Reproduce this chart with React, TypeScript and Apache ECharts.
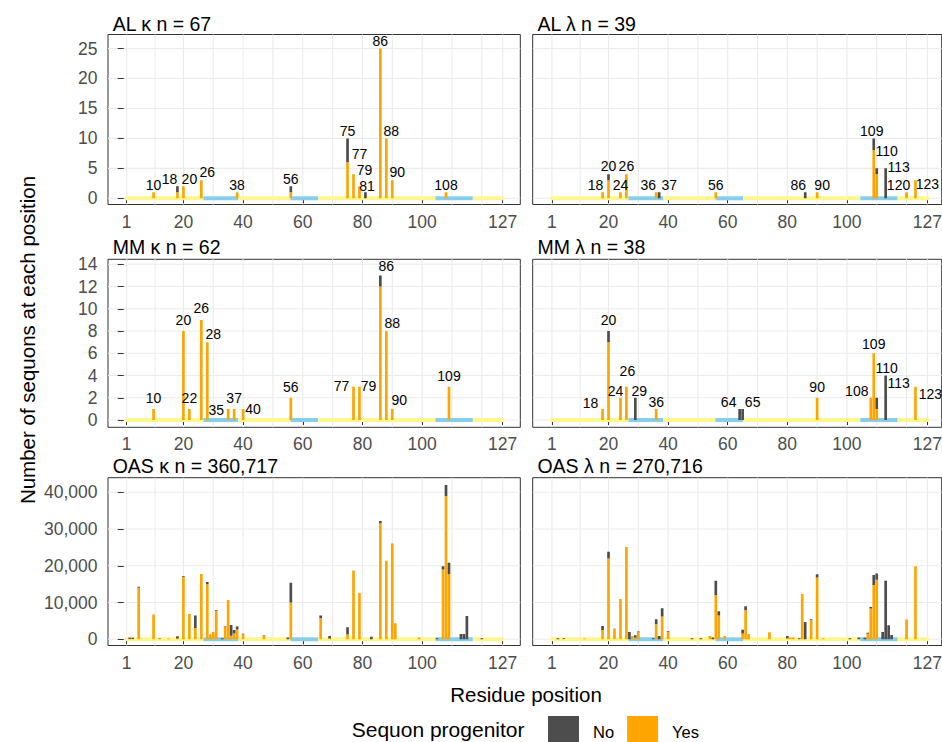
import React, { useEffect, useRef } from "react";
import * as echarts from "echarts";

const FONT = "'Liberation Sans', Arial, Helvetica, sans-serif";

// ---------- Data ----------
const panelTitles = [
  "AL κ n = 67",
  "AL λ n = 39",
  "MM κ n = 62",
  "MM λ n = 38",
  "OAS κ n = 360,717",
  "OAS λ n = 270,716",
];

const alKappaPos = [10, 18, 20, 26, 38, 56, 75, 77, 79, 81, 86, 88, 90, 108];
const alKappaYes = [1, 1, 2, 3, 1, 1, 6, 4, 2, 0, 25, 10, 3, 1];
const alKappaNo = [0, 1, 0, 0, 0, 1, 4, 0, 0, 1, 0, 0, 0, 0];

const alLambdaPos = [18, 20, 24, 26, 36, 37, 56, 86, 90, 109, 110, 113, 120, 123];
const alLambdaYes = [1, 3, 1, 4, 1, 0, 1, 0, 1, 8, 4, 0, 1, 3];
const alLambdaNo = [0, 1, 0, 0, 0, 1, 0, 1, 0, 2, 1, 5, 0, 0];

const mmKappaPos = [10, 20, 22, 26, 28, 35, 37, 40, 56, 77, 79, 86, 88, 90, 109];
const mmKappaYes = [1, 8, 1, 9, 7, 1, 1, 1, 2, 3, 3, 12, 8, 1, 3];
const mmKappaNo = [0, 0, 0, 0, 0, 0, 0, 0, 0, 0, 0, 1, 0, 0, 0];

const mmLambdaPos = [18, 20, 24, 26, 29, 36, 64, 65, 90, 108, 109, 110, 113, 123];
const mmLambdaYes = [1, 7, 2, 3, 0, 1, 0, 0, 2, 2, 6, 1, 0, 3];
const mmLambdaNo = [0, 1, 0, 0, 2, 0, 1, 1, 0, 0, 0, 1, 4, 0];

const oasKappaPos = [2, 3, 5, 10, 12, 15, 18, 20, 22, 24, 26, 28, 29, 30, 31, 33, 34, 35, 36, 37, 38, 40, 47, 55, 56, 66, 69, 75, 77, 79, 83, 86, 88, 90, 91, 99, 105, 107, 108, 109, 113, 114, 115, 120];
const oasKappaYes = [100, 100, 14000, 6600, 100, 200, 200, 17000, 6900, 3100, 17800, 15000, 1400, 2000, 7800, 0, 3450, 10700, 1000, 1600, 2700, 1400, 1000, 0, 10000, 5700, 200, 1300, 18700, 12600, 0, 31600, 21400, 25900, 4400, 500, 0, 19000, 39000, 17700, 0, 0, 0, 0];
const oasKappaNo = [300, 300, 300, 100, 100, 0, 600, 200, 0, 3400, 0, 600, 0, 0, 200, 300, 150, 0, 2900, 900, 800, 100, 100, 500, 5400, 800, 700, 2000, 0, 0, 700, 600, 0, 100, 0, 0, 300, 900, 3000, 3100, 1450, 1450, 6350, 300];

const oasLambdaPos = [3, 5, 12, 18, 20, 22, 24, 26, 27, 28, 29, 30, 35, 36, 37, 38, 40, 48, 51, 54, 55, 56, 57, 59, 65, 66, 67, 74, 80, 81, 82, 84, 85, 86, 88, 90, 92, 101, 104, 106, 107, 108, 109, 110, 112, 113, 114, 115, 120, 123];
const oasLambdaYes = [0, 100, 200, 2540, 22000, 2800, 11000, 25100, 0, 900, 500, 1900, 0, 4100, 0, 6200, 2000, 0, 0, 900, 0, 12000, 6500, 900, 1600, 7900, 1450, 1900, 300, 500, 500, 0, 12300, 0, 5200, 16800, 300, 0, 0, 0, 1500, 8400, 14800, 16200, 0, 0, 0, 0, 5400, 19900];
const oasLambdaNo = [300, 200, 0, 1100, 1800, 100, 0, 0, 2000, 0, 600, 200, 300, 1350, 900, 2250, 200, 300, 300, 0, 500, 3900, 1100, 0, 1000, 1100, 0, 0, 600, 0, 0, 300, 0, 4700, 250, 900, 0, 300, 500, 400, 300, 400, 2700, 1700, 2000, 15900, 3800, 1200, 0, 0];

// Region band (framework / CDR segments)
const regionStart = [0.5, 26.7, 38.4, 55.9, 65.2, 104.5, 117];
const regionEnd = [26.7, 38.4, 55.9, 65.2, 104.5, 117, 127.5];
const regionKind = [0, 1, 0, 1, 0, 1, 0]; // 0 = FR, 1 = CDR

// Axis ticks
const xTickValues = [1, 20, 40, 60, 80, 100, 127];
const xGridValues = [1, 10.5, 20, 30, 40, 50, 60, 70, 80, 90, 100, 110, 120, 127];
const yTicksRow1 = [0, 5, 10, 15, 20, 25];
const yTicksRow2 = [0, 2, 4, 6, 8, 10, 12, 14];
const yTicksRow3 = [0, 10000, 20000, 30000, 40000];

// Label nudges (px) for repelled text labels
const labelNudge: Record<number, [number, number]>[] = [
  { 18: [-8, 0], 20: [6, 0], 26: [6, -1], 77: [6, -13], 79: [5, -9], 81: [1.5, 1], 88: [5, 0], 90: [5, -1] },
  { 18: [-7, 0], 20: [0, -1], 26: [0, -1], 36: [-8, 0], 37: [10, 0], 86: [-7, 0], 90: [5, 0], 109: [-2, 0], 110: [10, -9.5], 113: [13, 6.5], 120: [-8, 0], 123: [12, 11.5] },
  { 26: [0, -1], 28: [6, 2.5], 35: [-12, 12.5], 40: [10, 11.5], 77: [-12, 10.5], 79: [9, 10.5], 86: [6, 1.5], 88: [6, 3], 90: [7, 2.5] },
  { 18: [-12, 5.5], 24: [-5, 4], 26: [1, -5], 29: [4, 4], 36: [0, 4], 64: [-11, 4], 65: [10, 4], 108: [-14, 4.5], 109: [0, 1.5], 110: [10, -19], 113: [13, 18], 123: [15, 18] },
];

const panelData = [
  { pos: alKappaPos, yes: alKappaYes, no: alKappaNo },
  { pos: alLambdaPos, yes: alLambdaYes, no: alLambdaNo },
  { pos: mmKappaPos, yes: mmKappaYes, no: mmKappaNo },
  { pos: mmLambdaPos, yes: mmLambdaYes, no: mmLambdaNo },
  { pos: oasKappaPos, yes: oasKappaYes, no: oasKappaNo },
  { pos: oasLambdaPos, yes: oasLambdaYes, no: oasLambdaNo },
];

// ---------- Layout ----------
const cols = [
  { left: 108, width: 412.3, xmin: -5.27, xmax: 132.9, titleX: 112.7 },
  { left: 532.7, width: 409, xmin: -5.44, xmax: 131.8, titleX: 537.4 },
];
const rows = [
  { top: 34.5, height: 170, ymin: -1.035, ymax: 27.34, ticks: yTicksRow1, labelDist: 1, titleY: 23.7 },
  { top: 259.3, height: 168, ymin: -0.656, ymax: 14.45, ticks: yTicksRow2, labelDist: 4.5, titleY: 246.7 },
  { top: 477.7, height: 167.8, ymin: -1687, ymax: 43973, ticks: yTicksRow3, labelDist: 0, titleY: 465.5 },
];

const ORANGE = "#FFA500";
const DARK = "#4D4D4D";
const FR_COLOR = "#FFF68F";
const CDR_COLOR = "#87CEEB";
const GRID_COLOR = "#EBEBEB";
const BAR_UNITS = 0.9;

function barRender(params: any, api: any) {
  const x = api.value(0);
  const y0 = api.value(1);
  const y1 = api.value(2);
  if (!(y1 > y0)) return null;
  const w = api.size([BAR_UNITS, 0])[0];
  const pTop = api.coord([x, y1]);
  const pBot = api.coord([x, y0]);
  return {
    type: "rect",
    shape: { x: pTop[0] - w / 2, y: pTop[1], width: w, height: pBot[1] - pTop[1] },
    style: { fill: api.visual("color") },
  };
}

function buildOption() {
  const grid: any[] = [];
  const xAxis: any[] = [];
  const yAxis: any[] = [];
  const series: any[] = [];
  const graphic: any[] = [];

  for (let i = 0; i < 6; i++) {
    const r = Math.floor(i / 2);
    const c = i % 2;
    const col = cols[c];
    const row = rows[r];
    grid.push({
      left: col.left,
      top: row.top,
      width: col.width,
      height: row.height,
      show: true,
      borderColor: "#333333",
      borderWidth: 1,
      backgroundColor: "transparent",
      containLabel: false,
      outerBoundsMode: "none",
    });
    xAxis.push({
      type: "value",
      gridIndex: i,
      min: col.xmin,
      max: col.xmax,
      axisLine: { show: false },
      splitLine: { show: false },
      axisTick: { show: true, length: 5, lineStyle: { color: "#333333", width: 1 }, customValues: xTickValues },
      axisLabel: {
        show: true,
        customValues: xTickValues,
        margin: 8,
        fontSize: 17.5,
        color: "#4D4D4D",
        fontFamily: FONT,
      },
    });
    yAxis.push({
      type: "value",
      gridIndex: i,
      min: row.ymin,
      max: row.ymax,
      axisLine: { show: false },
      splitLine: { show: false },
      axisTick: { show: c === 0, length: 6, lineStyle: { color: "#333333", width: 1 }, customValues: row.ticks },
      axisLabel: {
        show: c === 0,
        customValues: row.ticks,
        margin: 10.5,
        fontSize: 17.5,
        color: "#4D4D4D",
        fontFamily: FONT,
        formatter: (v: number) => Math.round(v).toLocaleString("en-US"),
      },
    });

    // grid lines
    const gl: number[][] = [];
    xGridValues.forEach((v) => gl.push([v, 0, 0]));
    row.ticks.forEach((v) => gl.push([0, v, 1]));
    series.push({
      type: "custom",
      xAxisIndex: i,
      yAxisIndex: i,
      z: 0,
      silent: true,
      encode: { x: 0, y: 1 },
      data: gl,
      renderItem: (params: any, api: any) => {
        const cs = params.coordSys;
        const kind = api.value(2);
        if (kind === 0) {
          const x = api.coord([api.value(0), 0])[0];
          return {
            type: "line",
            shape: { x1: x, y1: cs.y, x2: x, y2: cs.y + cs.height },
            style: { stroke: GRID_COLOR, lineWidth: 1.1 },
          };
        }
        const y = api.coord([0, api.value(1)])[1];
        return {
          type: "line",
          shape: { x1: cs.x, y1: y, x2: cs.x + cs.width, y2: y },
          style: { stroke: GRID_COLOR, lineWidth: 1.1 },
        };
      },
    });

    // region band
    series.push({
      type: "custom",
      xAxisIndex: i,
      yAxisIndex: i,
      z: 1,
      silent: true,
      encode: { x: [0, 2], y: 1 },
      data: regionStart.map((s, k) => [s, 0, regionEnd[k], regionKind[k]]),
      renderItem: (params: any, api: any) => {
        const p0 = api.coord([api.value(0), 0]);
        const p1 = api.coord([api.value(2), 0]);
        return {
          type: "rect",
          shape: { x: p0[0], y: p0[1] - 2, width: p1[0] - p0[0], height: 4 },
          style: { fill: api.value(3) === 1 ? CDR_COLOR : FR_COLOR },
        };
      },
    });

    const pd = panelData[i];
    // stacked bars: Yes at the bottom, No stacked on top
    series.push({
      type: "custom",
      name: "Yes",
      xAxisIndex: i,
      yAxisIndex: i,
      z: 2,
      silent: true,
      clip: true,
      encode: { x: 0, y: [1, 2] },
      itemStyle: { color: ORANGE },
      data: pd.pos.map((p, k) => [p, 0, pd.yes[k]]),
      renderItem: barRender,
    });
    series.push({
      type: "custom",
      name: "No",
      xAxisIndex: i,
      yAxisIndex: i,
      z: 2,
      silent: true,
      clip: true,
      encode: { x: 0, y: [1, 2] },
      itemStyle: { color: DARK },
      data: pd.pos.map((p, k) => [p, pd.yes[k], pd.yes[k] + pd.no[k]]),
      renderItem: barRender,
    });

    if (r < 2) {
      const nudge = labelNudge[i];
      const nudgeList = pd.pos.map((p) => nudge[p] || [0, 0]);
      series.push({
        type: "scatter",
        xAxisIndex: i,
        yAxisIndex: i,
        z: 3,
        silent: true,
        symbol: "circle",
        symbolSize: 1,
        itemStyle: { color: "rgba(0,0,0,0)" },
        label: {
          show: true,
          position: "top",
          distance: row.labelDist,
          fontSize: 14,
          lineHeight: 12,
          color: "#000000",
          opacity: 1,
          fontFamily: FONT,
          formatter: (p: any) => String(p.value[0]),
        },
        labelLayout: (params: any) => {
          const n = nudgeList[params.dataIndex] || [0, 0];
          return { dx: n[0], dy: n[1], hideOverlap: false };
        },
        data: pd.pos.map((p, k) => [p, pd.yes[k] + pd.no[k]]),
      });
    }

    graphic.push({
      type: "text",
      x: col.titleX,
      y: row.titleY,
      style: {
        text: panelTitles[i],
        fontSize: 19.5,
        fontFamily: FONT,
        fill: "#000000",
        align: "left",
        verticalAlign: "middle",
      },
    });
  }

  graphic.push({
    type: "text",
    x: 526,
    y: 694,
    style: { text: "Residue position", fontSize: 20.5, fontFamily: FONT, fill: "#000000", align: "center", verticalAlign: "middle" },
  });
  graphic.push({
    type: "text",
    x: 27,
    y: 340,
    rotation: Math.PI / 2,
    style: {
      text: "Number of sequons at each position",
      fontSize: 20.5,
      fontFamily: FONT,
      fill: "#000000",
      align: "center",
      verticalAlign: "middle",
    },
  });
  graphic.push({
    type: "text",
    x: 351.7,
    y: 729.5,
    style: { text: "Sequon progenitor", fontSize: 21, fontFamily: FONT, fill: "#000000", align: "left", verticalAlign: "middle" },
  });

  return {
    animation: false,
    backgroundColor: "#ffffff",
    textStyle: { fontFamily: FONT },
    grid,
    xAxis,
    yAxis,
    series,
    graphic,
    legend: {
      data: [
        { name: "No", itemStyle: { color: DARK } },
        { name: "Yes", itemStyle: { color: ORANGE } },
      ],
      left: 548,
      top: 716,
      orient: "horizontal",
      itemWidth: 31,
      itemHeight: 31,
      itemGap: 13,
      icon: "rect",
      padding: 0,
      selectedMode: false,
      textStyle: { fontSize: 16.5, color: "#000000", fontFamily: FONT, padding: [0, 0, 0, 9] },
    },
  };
}

export default function App() {
  const ref = useRef<HTMLDivElement>(null);
  useEffect(() => {
    document.body.style.margin = "0";
    if (!ref.current) return;
    const chart = echarts.init(ref.current, undefined, { renderer: "svg" });
    chart.setOption(buildOption() as any);
    return () => {
      chart.dispose();
    };
  }, []);
  return <div ref={ref} style={{ width: 942, height: 742 }} />;
}
